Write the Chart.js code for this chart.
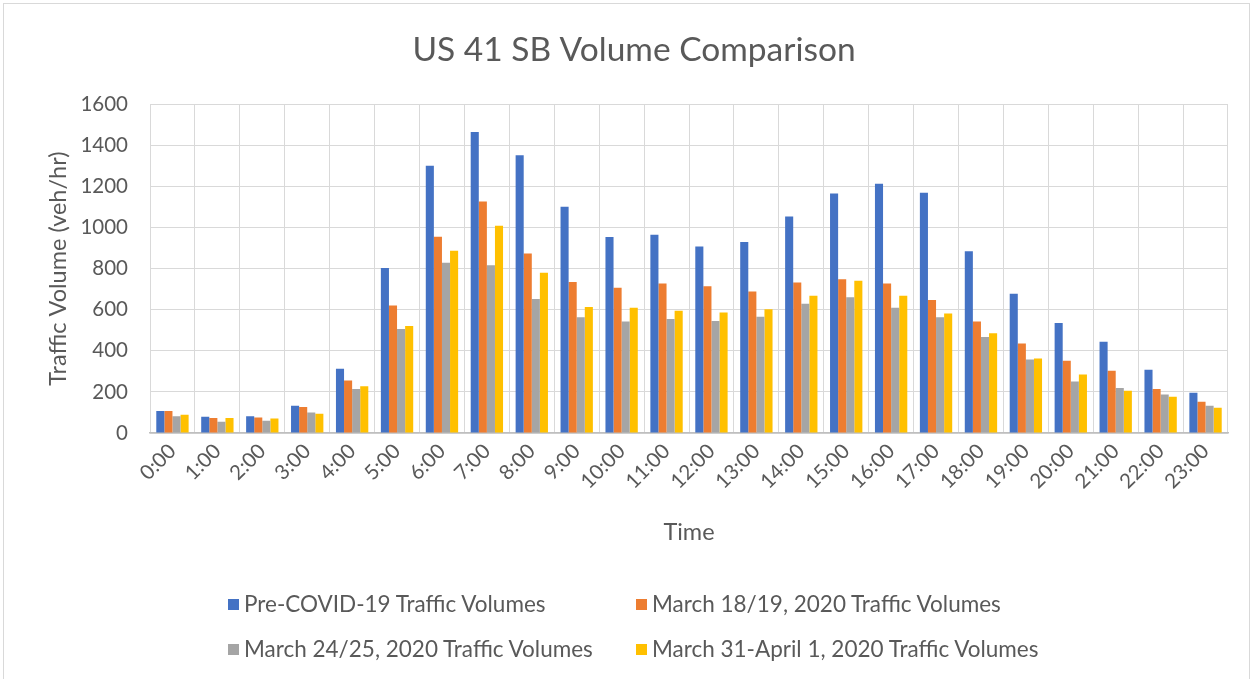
<!DOCTYPE html>
<html>
<head>
<meta charset="utf-8">
<title>US 41 SB Volume Comparison</title>
<script src="https://cdn.jsdelivr.net/npm/chart.js@4/dist/chart.umd.min.js"></script>
<style>
	body { margin: 0; background: #fff; overflow: hidden; }
	#wrap { position: relative; width: 1252px; height: 679px; }
	#frame { position: absolute; left: 3px; top: 3px; width: 1245px; height: 690px; border: 1px solid #d9d9d9; pointer-events: none; }
	#legend { position: absolute; left: 0; top: 0; width: 100%; font-family: Lato, 'Open Sans', sans-serif; font-size: 22.5px; color: #595959; }
	.item { position: absolute; white-space: nowrap; line-height: 26px; }
	.item span.box { display: inline-block; width: 11px; height: 11px; margin-right: 5px; vertical-align: 2px; }
</style>
</head>
<body>
<div id="wrap">
	<canvas id="chart"></canvas>
	<div id="legend"></div>
	<div id="frame"></div>
</div>
<script>
'use strict';

const hours = [ '0:00', '1:00', '2:00', '3:00', '4:00', '5:00', '6:00', '7:00', '8:00', '9:00', '10:00', '11:00',
	'12:00', '13:00', '14:00', '15:00', '16:00', '17:00', '18:00', '19:00', '20:00', '21:00', '22:00', '23:00' ];

const preCovid = [ 107, 79, 82, 133, 313, 803, 1301, 1465, 1351, 1101, 954, 965, 908, 929, 1053, 1166, 1213, 1169, 884, 678, 535, 444, 308, 196 ];
const march1819 = [ 107, 73, 75, 126, 255, 621, 955, 1126, 873, 735, 707, 727, 714, 689, 732, 748, 728, 647, 543, 436, 352, 303, 214, 152 ];
const march2425 = [ 81, 55, 60, 100, 214, 506, 829, 816, 652, 563, 542, 555, 545, 566, 629, 660, 610, 563, 467, 358, 251, 219, 187, 133 ];
const march31Apr1 = [ 89, 73, 70, 94, 227, 521, 887, 1009, 780, 613, 610, 595, 586, 602, 668, 741, 668, 581, 485, 363, 285, 206, 177, 123 ];

const seriesNames = [ 'Pre-COVID-19 Traffic Volumes', 'March 18/19, 2020 Traffic Volumes',
	'March 24/25, 2020 Traffic Volumes', 'March 31-April 1, 2020 Traffic Volumes' ];
const seriesColors = [ '#4472c4', '#ed7d31', '#a5a5a5', '#ffc000' ];

const yTicks = [ 0, 200, 400, 600, 800, 1000, 1200, 1400, 1600 ];

const fontFamily = "Lato, 'Open Sans', sans-serif";
const textColor = '#595959';
const gridColor = '#d9d9d9';

const seriesData = [ preCovid, march1819, march2425, march31Apr1 ];

const datasets = seriesData.map( ( values, i ) => ( {
	label: seriesNames[ i ],
	data: values,
	backgroundColor: seriesColors[ i ],
	borderWidth: 0,
	barPercentage: 1.0,
	categoryPercentage: 0.72,
} ) );

const chart = new Chart( document.getElementById( 'chart' ), {
	type: 'bar',
	data: {
		labels: hours,
		datasets: datasets,
	},
	options: {
		responsive: true,
		maintainAspectRatio: false,
		animation: false,
		layout: {
			padding: { left: 40, right: 24, top: 20, bottom: 128 },
		},
		plugins: {
			legend: { display: false },
			tooltip: { enabled: false },
			title: {
				display: true,
				text: 'US 41 SB Volume Comparison',
				color: textColor,
				font: { family: fontFamily, size: 33.5, weight: 'normal' },
				padding: { top: 10, bottom: 34 },
			},
		},
		scales: {
			x: {
				grid: { color: gridColor, lineWidth: 1, drawTicks: false, offset: true },
				border: { color: '#bfbfbf', width: 1.5 },
				ticks: {
					color: textColor,
					font: { family: fontFamily, size: 20.5 },
					minRotation: 45,
					maxRotation: 45,
					padding: 6,
				},
				title: {
					display: true,
					text: 'Time',
					color: textColor,
					font: { family: fontFamily, size: 23.5 },
					padding: { top: 4, bottom: 4 },
				},
				afterFit: function ( scale ) {
					scale.height = 118;
				},
			},
			y: {
				min: 0,
				max: 1600,
				afterBuildTicks: function ( scale ) {
					scale.ticks = yTicks.map( v => ( { value: v } ) );
				},
				grid: { color: gridColor, lineWidth: 1, drawTicks: false },
				border: { display: false },
				ticks: {
					color: textColor,
					font: { family: fontFamily, size: 20.5 },
					padding: 22,
					callback: function ( value ) {
						return String( value );
					},
				},
				title: {
					display: true,
					text: 'Traffic Volume (veh/hr)',
					color: textColor,
					font: { family: fontFamily, size: 23.5 },
					padding: { top: 4, bottom: 4 },
				},
				afterFit: function ( scale ) {
					scale.width = 110;
				},
			},
		},
	},
} );

// legend in two rows, two columns like the original
const legendPos = [ [ 228, 591 ], [ 636, 591 ], [ 228, 636 ], [ 636, 636 ] ];
const legend = document.getElementById( 'legend' );
seriesNames.forEach( ( name, i ) => {
	const item = document.createElement( 'div' );
	item.className = 'item';
	item.style.left = legendPos[ i ][ 0 ] + 'px';
	item.style.top = legendPos[ i ][ 1 ] + 'px';
	const box = document.createElement( 'span' );
	box.className = 'box';
	box.style.background = seriesColors[ i ];
	item.appendChild( box );
	item.appendChild( document.createTextNode( name ) );
	legend.appendChild( item );
} );
</script>
</body>
</html>
